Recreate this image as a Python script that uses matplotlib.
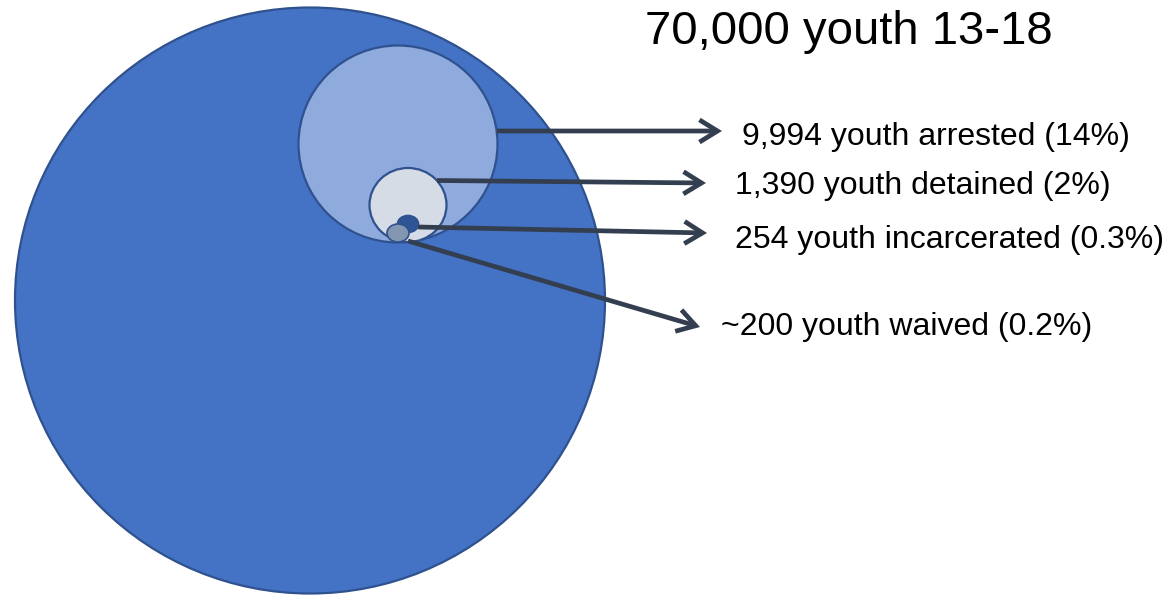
import matplotlib
matplotlib.use("Agg")
import matplotlib.pyplot as plt
from matplotlib.patches import Ellipse, FancyArrowPatch

# ---- data ----
title = "70,000 youth 13-18"
groups = ["arrested", "detained", "incarcerated", "waived"]
counts = ["9,994", "1,390", "254", "~200"]
percents = ["14%", "2%", "0.3%", "0.2%"]

# ---- layout (pixel coordinates) ----
W, H = 1171, 595
fig = plt.figure(figsize=(W / 100, H / 100), dpi=100)
ax = fig.add_axes([0, 0, 1, 1])
ax.set_xlim(0, W)
ax.set_ylim(H, 0)
ax.set_aspect("auto")
ax.axis("off")

edge = "#2F528F"
# circles: (cx, cy, w, h, face)
shapes = [
    (310, 300.5, 590, 586, "#4472C4"),
    (398, 144, 199, 197, "#8FAADC"),
    (408, 205, 77, 74, "#D6DCE5"),
    (408, 224, 21, 17, "#2F5597"),
    (398, 233, 22, 18, "#8497B0"),
]
for i, (cx, cy, w, h, fc) in enumerate(shapes):
    ax.add_patch(Ellipse((cx, cy), w, h, facecolor=fc, edgecolor=edge,
                         linewidth=1.6 if i < 3 else 1.2, zorder=2 + i))

arrow_col = "#333F50"
starts = [(497, 131), (437, 180.5), (418, 227), (408, 241)]
ends = [(722, 131), (706, 183), (707, 233), (700, 327)]
label_pos = [(742, 145), (735, 194), (735, 248), (721, 335)]

for (s, e) in zip(starts, ends):
    ar = FancyArrowPatch(s, e,
                         arrowstyle="->,head_length=13,head_width=8",
                         color=arrow_col, linewidth=3.4, zorder=10,
                         shrinkA=0, shrinkB=0, joinstyle="miter",
                         capstyle="butt", mutation_scale=1)
    ax.add_patch(ar)

for g, c, p, (x, y) in zip(groups, counts, percents, label_pos):
    ax.text(x, y, f"{c} youth {g} ({p})", fontsize=23,
            family=["Liberation Sans", "DejaVu Sans"],
            ha="left", va="baseline", color="#000000", zorder=11)

ax.text(645, 44, title, fontsize=34, family=["Liberation Sans", "DejaVu Sans"],
        ha="left", va="baseline", color="#000000", zorder=11)

fig.savefig("out.png", dpi=100)
